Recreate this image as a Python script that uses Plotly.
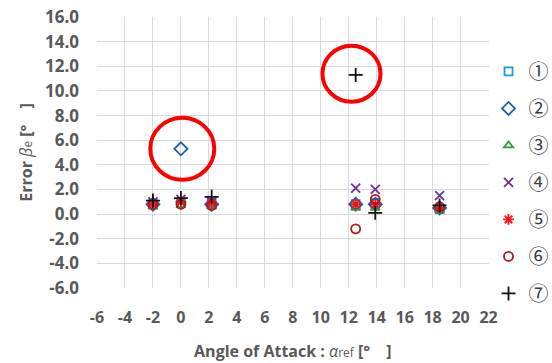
import plotly.graph_objects as go

# Angle of attack for each measurement set
alpha_ref = [-2.0, 0.0, 2.2, 12.5, 13.9, 18.5]

# Error beta_e per sensor (series 1..7)
err_1 = [0.8, 0.9, 0.9, 0.8, 0.9, 0.4]
err_2 = [0.8, 5.3, 0.8, 0.8, 0.8, 0.5]
err_3 = [0.6, 0.7, 0.6, 0.5, 0.5, 0.3]
err_4 = [1.0, 1.2, 1.0, 2.1, 2.0, 1.5]
err_5 = [0.8, 1.0, 0.9, 0.8, 0.8, 0.5]
err_6 = [0.8, 0.8, 0.7, -1.2, 1.2, 0.6]
err_7 = [1.1, 1.3, 1.4, 11.3, 0.1, 0.7]

series_names = ["①", "②", "③", "④", "⑤", "⑥", "⑦"]
series_values = [err_1, err_2, err_3, err_4, err_5, err_6, err_7]

x_ticks = list(range(-6, 23, 2))
x_tick_labels = [str(v) for v in x_ticks]
y_ticks = list(range(-6, 17, 2))
y_tick_labels = [f"{v:.1f}" for v in y_ticks]

styles = [
    dict(symbol="square-open", color="#1E9BD7", size=8),
    dict(symbol="diamond-open", color="#1F5DAF", size=10),
    dict(symbol="triangle-up-open", color="#2E9E3C", size=8),
    dict(symbol="x-thin-open", color="#7030A0", size=9),
    dict(symbol="asterisk-open", color="#FF1010", size=9),
    dict(symbol="circle-open", color="#B01818", size=9),
    dict(symbol="cross-thin-open", color="#111111", size=10),
]

fig = go.Figure()
for i, (name, vals) in enumerate(zip(series_names, series_values)):
    st = styles[i]
    fig.add_trace(go.Scatter(
        x=alpha_ref, y=vals, mode="markers", name=name,
        legendgroup=f"g{i}",
        marker=dict(symbol=st["symbol"], size=st["size"], color=st["color"],
                    line=dict(color=st["color"], width=1.8)),
    ))

# Highlight rings around the outlying points
rings = [(0.1, 5.3, 32, 31), (12.2, 11.4, 29, 28)]
for cx, cy, rx, ry in rings:
    fig.add_shape(type="circle", xref="x", yref="y",
                  xsizemode="pixel", ysizemode="pixel",
                  xanchor=cx, yanchor=cy,
                  x0=-rx, x1=rx, y0=-ry, y1=ry,
                  line=dict(color="#FF0000", width=4))

base_family = "Open Sans, Noto Sans, sans-serif"
x_tick_font = dict(family=base_family, size=16, color="#595959", weight="bold")
y_tick_font = dict(family=base_family, size=17, color="#595959", weight="bold")

fig.update_layout(
    width=552, height=363,
    margin=dict(l=97, r=59, t=17, b=75),
    paper_bgcolor="white", plot_bgcolor="white",
    font=dict(family=base_family, color="#595959"),
    xaxis=dict(range=[-6, 22], tickvals=x_ticks, ticktext=x_tick_labels, showgrid=True,
               gridcolor="#D9D9D9", gridwidth=1, zeroline=False, showline=False,
               tickfont=x_tick_font, ticks="", ticklabelstandoff=18, automargin=False,
               title=dict(text="<b>Angle of Attack : </b><i>α</i><span style='font-size:12px'>ref</span><b> [°　]</b>",
                          font=dict(size=16, color="#595959"), standoff=18)),
    yaxis=dict(range=[-6, 16], tickvals=y_ticks, ticktext=y_tick_labels, showgrid=True,
               gridcolor="#D9D9D9", gridwidth=1, zeroline=False, showline=False,
               tickfont=y_tick_font, ticks="", ticklabelstandoff=17, automargin=False,
               title=dict(text="<b>Error </b><i>β</i><span style='font-size:12px'>e</span><b> [°　]</b>",
                          font=dict(size=16, color="#595959"), standoff=8)),
    legend=dict(xref="container", yref="container", x=0.885, y=0.857,
                xanchor="left", yanchor="top",
                font=dict(size=20, color="#3A3A3A", family="Noto Sans CJK JP, DejaVu Sans, sans-serif"),
                tracegroupgap=8, itemwidth=30, bgcolor="rgba(0,0,0,0)", maxheight=1),
)

fig.write_html("out.html")
